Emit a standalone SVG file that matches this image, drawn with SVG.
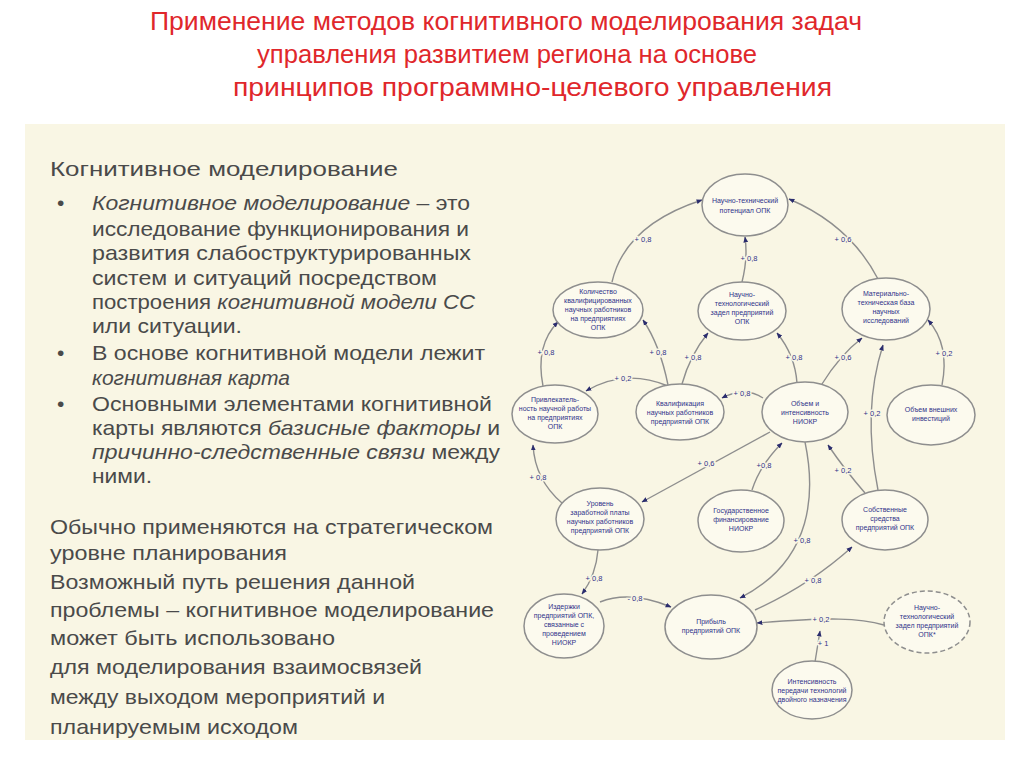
<svg xmlns="http://www.w3.org/2000/svg" width="1024" height="767" viewBox="0 0 1024 767">
<defs>
<style>
.title{font-family:"Liberation Sans",Arial,sans-serif;font-size:25px;fill:#e0272b}
.body{font-family:"Liberation Sans",Arial,sans-serif;font-size:21px;fill:#4a4a4a}
.it{font-style:italic}
.node ellipse{fill:#fcfaee;stroke:#8e8e8e;stroke-width:1.5}
.node text{font-family:"Liberation Sans",Arial,sans-serif;font-size:7px;fill:#30338a;text-anchor:middle}
.edges path{fill:none;stroke:#8e8e8e;stroke-width:1.4;marker-end:url(#arr)}
.lbl{font-family:"Liberation Sans",Arial,sans-serif;font-size:7.5px;fill:#30338a;text-anchor:middle;paint-order:stroke;stroke:#f9f6e4;stroke-width:3px}
</style>
<marker id="arr" viewBox="0 0 10 10" refX="9" refY="5" markerWidth="6" markerHeight="6" markerUnits="userSpaceOnUse" orient="auto">
<path d="M0,1 L10,5 L0,9 z" fill="#2b2d6e"/>
</marker>
<clipPath id="pc"><rect x="25" y="124" width="980" height="616"/></clipPath>
</defs>
<rect width="1024" height="767" fill="#ffffff"/>
<text class="title" x="150" y="30" textLength="712" lengthAdjust="spacingAndGlyphs">Применение методов когнитивного моделирования задач</text>
<text class="title" x="257" y="63" textLength="500" lengthAdjust="spacingAndGlyphs">управления развитием региона на основе</text>
<text class="title" x="233" y="96" textLength="599" lengthAdjust="spacingAndGlyphs">принципов программно-целевого управления</text>
<rect x="25" y="124" width="980" height="616" fill="#f9f6e4"/>
<g clip-path="url(#pc)">
<text class="body" x="50" y="176" textLength="348" lengthAdjust="spacingAndGlyphs" fill="#555">Когнитивное моделирование</text>
<text class="body" x="57" y="210">•</text>
<text class="body" x="92" y="210" textLength="378" lengthAdjust="spacingAndGlyphs"><tspan class="it">Когнитивное моделирование</tspan> – это</text>
<text class="body" x="92" y="236" textLength="377" lengthAdjust="spacingAndGlyphs">исследование функционирования и</text>
<text class="body" x="92" y="260" textLength="379" lengthAdjust="spacingAndGlyphs">развития слабоструктурированных</text>
<text class="body" x="92" y="285" textLength="345" lengthAdjust="spacingAndGlyphs">систем и ситуаций посредством</text>
<text class="body" x="92" y="309" textLength="383" lengthAdjust="spacingAndGlyphs">построения <tspan class="it">когнитивной модели СС</tspan></text>
<text class="body" x="92" y="333" textLength="150" lengthAdjust="spacingAndGlyphs">или ситуации.</text>
<text class="body" x="57" y="360">•</text>
<text class="body" x="92" y="360" textLength="393" lengthAdjust="spacingAndGlyphs">В основе когнитивной модели лежит</text>
<text class="body it" x="92" y="385" textLength="198" lengthAdjust="spacingAndGlyphs">когнитивная карта</text>
<text class="body" x="57" y="411">•</text>
<text class="body" x="92" y="411" textLength="400" lengthAdjust="spacingAndGlyphs">Основными элементами когнитивной</text>
<text class="body" x="92" y="435" textLength="408" lengthAdjust="spacingAndGlyphs">карты являются <tspan class="it">базисные факторы</tspan> и</text>
<text class="body" x="92" y="459" textLength="408" lengthAdjust="spacingAndGlyphs"><tspan class="it">причинно-следственные связи</tspan> между</text>
<text class="body" x="92" y="483" textLength="60" lengthAdjust="spacingAndGlyphs">ними.</text>
<text class="body" x="50" y="534" textLength="443" lengthAdjust="spacingAndGlyphs">Обычно применяются на стратегическом</text>
<text class="body" x="50" y="560" textLength="237" lengthAdjust="spacingAndGlyphs">уровне планирования</text>
<text class="body" x="50" y="589" textLength="365" lengthAdjust="spacingAndGlyphs">Возможный путь решения данной</text>
<text class="body" x="50" y="617" textLength="444" lengthAdjust="spacingAndGlyphs">проблемы – когнитивное моделирование</text>
<text class="body" x="50" y="645" textLength="285" lengthAdjust="spacingAndGlyphs">может быть использовано</text>
<text class="body" x="50" y="674" textLength="372" lengthAdjust="spacingAndGlyphs">для моделирования взаимосвязей</text>
<text class="body" x="50" y="704" textLength="335" lengthAdjust="spacingAndGlyphs">между выходом мероприятий и</text>
<text class="body" x="50" y="734" textLength="248" lengthAdjust="spacingAndGlyphs">планируемым исходом</text>
</g>
<g class="edges">
<path d="M612,282 Q625,225 702,200"/>
<path d="M742,282 Q748,258 745,237"/>
<path d="M878,279 Q850,225 789,199"/>
<path d="M543,386 Q535,345 558,322"/>
<path d="M668,385 Q660,345 643,320"/>
<path d="M668,386 Q625,368 586,391"/>
<path d="M763,398 Q745,386 722,398"/>
<path d="M682,384 Q690,355 708,333"/>
<path d="M797,383 Q795,355 777,333"/>
<path d="M822,384 Q840,355 862,338"/>
<path d="M878,490 Q862,410 883,345"/>
<path d="M942,385 Q950,345 928,320"/>
<path d="M770,432 L642,502"/>
<path d="M752,490 Q760,465 782,443"/>
<path d="M865,493 Q845,470 828,445"/>
<path d="M805,442 C815,490 815,560 740,598"/>
<path d="M755,610 Q810,585 852,547"/>
<path d="M598,550 Q596,575 582,594"/>
<path d="M600,602 Q630,590 671,607"/>
<path d="M884,625 C860,618 830,617 757,623"/>
<path d="M815,662 L820,631"/>
<path d="M562,503 Q535,480 533,445"/>
</g>
<g id="labels">
<text class="lbl" x="643" y="242">+ 0,8</text>
<text class="lbl" x="749" y="261">+ 0,8</text>
<text class="lbl" x="843" y="242">+ 0,6</text>
<text class="lbl" x="546" y="355">+ 0,8</text>
<text class="lbl" x="658" y="355">+ 0,8</text>
<text class="lbl" x="623" y="381">+ 0,2</text>
<text class="lbl" x="742" y="396">+ 0,8</text>
<text class="lbl" x="693" y="360">+ 0,8</text>
<text class="lbl" x="794" y="360">+ 0,8</text>
<text class="lbl" x="843" y="360">+ 0,6</text>
<text class="lbl" x="872" y="416">+ 0,2</text>
<text class="lbl" x="944" y="356">+ 0,2</text>
<text class="lbl" x="706" y="466">+ 0,6</text>
<text class="lbl" x="764" y="468">+0,8</text>
<text class="lbl" x="843" y="473">+ 0,2</text>
<text class="lbl" x="802" y="543">+ 0,8</text>
<text class="lbl" x="813" y="583">+ 0,8</text>
<text class="lbl" x="594" y="581">+ 0,8</text>
<text class="lbl" x="635" y="601">- 0,8</text>
<text class="lbl" x="821" y="622">+ 0,2</text>
<text class="lbl" x="823" y="646">+ 1</text>
<text class="lbl" x="538" y="480">+ 0,8</text>
</g>
<g id="n1" class="node"><ellipse cx="745" cy="205" rx="43" ry="31"/><text x="745" y="203">Научно-технический</text><text x="745" y="213">потенциал ОПК</text></g>
<g id="n2" class="node"><ellipse cx="598" cy="310" rx="45" ry="28"/><text x="598" y="294">Количество</text><text x="598" y="303">квалифицированных</text><text x="598" y="312">научных работников</text><text x="598" y="321">на предприятиях</text><text x="598" y="330">ОПК</text></g>
<g id="n3" class="node"><ellipse cx="742" cy="311" rx="44" ry="29"/><text x="742" y="297">Научно-</text><text x="742" y="306">технологический</text><text x="742" y="315">задел предприятий</text><text x="742" y="324">ОПК</text></g>
<g id="n4" class="node"><ellipse cx="886" cy="309" rx="44" ry="31"/><text x="886" y="296">Материально-</text><text x="886" y="305">техническая база</text><text x="886" y="314">научных</text><text x="886" y="323">исследований</text></g>
<g id="n5" class="node"><ellipse cx="555" cy="414" rx="43" ry="29"/><text x="555" y="402">Привлекатель-</text><text x="555" y="411">ность научной работы</text><text x="555" y="420">на предприятиях</text><text x="555" y="429">ОПК</text></g>
<g id="n6" class="node"><ellipse cx="680" cy="412" rx="44" ry="28"/><text x="680" y="406">Квалификация</text><text x="680" y="415">научных работников</text><text x="680" y="424">предприятий ОПК</text></g>
<g id="n7" class="node"><ellipse cx="805" cy="412" rx="43" ry="30"/><text x="805" y="406">Объем и</text><text x="805" y="415">интенсивность</text><text x="805" y="424">НИОКР</text></g>
<g id="n8" class="node"><ellipse cx="931" cy="415" rx="44" ry="30"/><text x="931" y="412">Объем внешних</text><text x="931" y="421">инвестиций</text></g>
<g id="n9" class="node"><ellipse cx="600" cy="519" rx="44" ry="31"/><text x="600" y="506">Уровень</text><text x="600" y="515">заработной платы</text><text x="600" y="524">научных работников</text><text x="600" y="533">предприятий ОПК</text></g>
<g id="n10" class="node"><ellipse cx="741" cy="521" rx="43" ry="31"/><text x="741" y="513">Государственное</text><text x="741" y="522">финансирование</text><text x="741" y="531">НИОКР</text></g>
<g id="n11" class="node"><ellipse cx="885" cy="520" rx="43" ry="30"/><text x="885" y="512">Собственные</text><text x="885" y="521">средства</text><text x="885" y="530">предприятий ОПК</text></g>
<g id="n12" class="node"><ellipse cx="564" cy="626" rx="40" ry="32"/><text x="564" y="609">Издержки</text><text x="564" y="618">предприятий ОПК,</text><text x="564" y="627">связанные с</text><text x="564" y="636">проведением</text><text x="564" y="645">НИОКР</text></g>
<g id="n13" class="node"><ellipse cx="711" cy="627" rx="46" ry="32"/><text x="711" y="624">Прибыль</text><text x="711" y="633">предприятий ОПК</text></g>
<g id="n14" class="node"><ellipse cx="927" cy="622" rx="43" ry="31" style="stroke-dasharray:5 3"/><text x="927" y="610">Научно-</text><text x="927" y="619">технологический</text><text x="927" y="628">задел предприятий</text><text x="927" y="637">ОПК*</text></g>
<g id="n15" class="node"><ellipse cx="812" cy="690" rx="40" ry="29"/><text x="812" y="684">Интенсивность</text><text x="812" y="693">передачи технологий</text><text x="812" y="702">двойного назначения</text></g>
</svg>
